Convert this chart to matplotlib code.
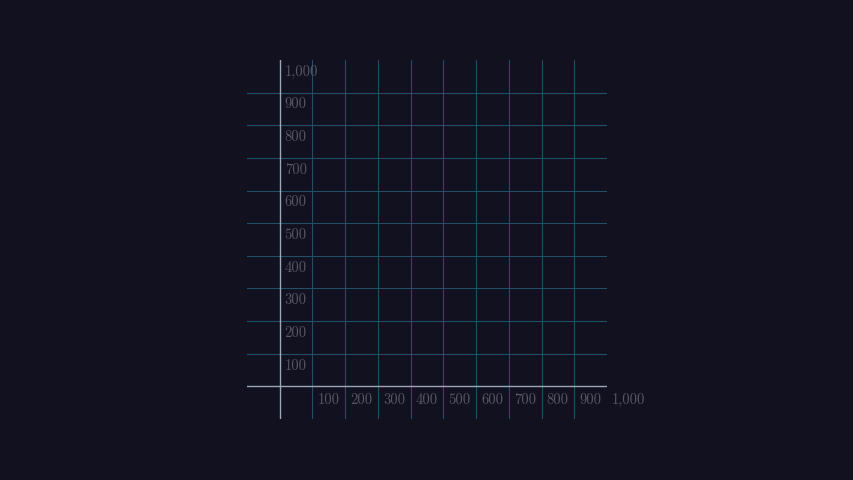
import matplotlib
matplotlib.use("Agg")
import matplotlib.pyplot as plt

# plane data
x_ticks = [100, 200, 300, 400, 500, 600, 700, 800, 900, 1000]
y_ticks = [100, 200, 300, 400, 500, 600, 700, 800, 900, 1000]
x_labels = ["100", "200", "300", "400", "500", "600", "700", "800", "900", "1,000"]
y_labels = ["100", "200", "300", "400", "500", "600", "700", "800", "900", "1,000"]
x_range = (-100, 1000)
y_range = (-100, 1000)

bg = "#12111f"
grid_col = "#1f5066"
axis_col = "#9aa8b8"
label_col = "#575767"

fig = plt.figure(figsize=(8.54, 4.8), dpi=100, facecolor=bg)
ax = fig.add_axes([247 / 854, 61 / 480, 360 / 854, 359 / 480])
ax.set_facecolor(bg)
ax.set_xlim(*x_range)
ax.set_ylim(*y_range)
ax.axis("off")

for v in x_ticks[:-1]:
    ax.axvline(v, color=grid_col, lw=0.8, zorder=1, snap=True)
for v in y_ticks[:-1]:
    ax.axhline(v, color=grid_col, lw=0.8, zorder=1, snap=True)

ax.axhline(0, color=axis_col, lw=1.0, zorder=2, snap=True)
ax.axvline(0, color=axis_col, lw=1.0, zorder=2, snap=True)

for v, lab in zip(x_ticks, x_labels):
    ax.annotate(lab, (v, 0), xytext=(5, -7), textcoords="offset pixels",
                ha="left", va="top", color=label_col, fontsize=10.5,
                family="cmr10", annotation_clip=False)
for v, lab in zip(y_ticks, y_labels):
    ax.annotate(lab, (0, v), xytext=(5, -12), textcoords="offset pixels",
                ha="left", va="center", color=label_col, fontsize=10.5,
                family="cmr10", annotation_clip=False)

fig.savefig("out.png", dpi=100, facecolor=bg)
